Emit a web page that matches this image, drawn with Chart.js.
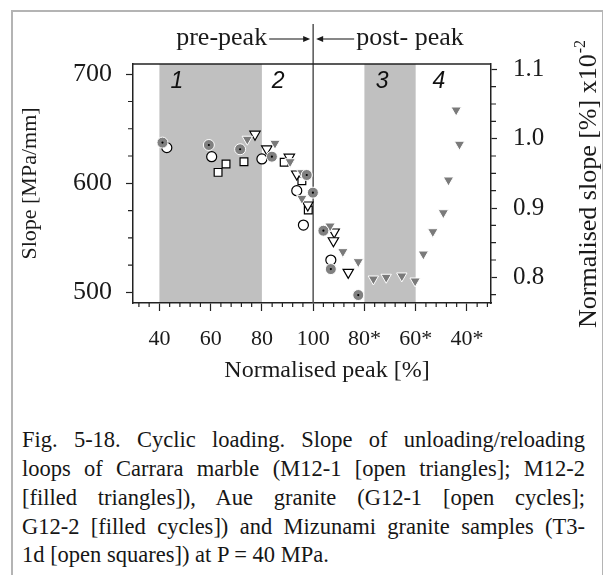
<!DOCTYPE html>
<html><head><meta charset="utf-8">
<script src="https://cdn.jsdelivr.net/npm/chart.js@4.4.0/dist/chart.umd.min.js"></script>
<style>
html,body{margin:0;padding:0;background:#fff;width:603px;height:575px;overflow:hidden;}
#frame{position:absolute;left:11px;top:10px;width:589px;height:620px;border:2px solid #b4b4b4;}
#wrap{position:absolute;left:0;top:0;width:603px;height:400px;}
#cap{position:absolute;left:22px;top:426px;width:563px;font-family:"Liberation Serif",serif;font-size:22.5px;line-height:28.85px;color:#161616;}
#cap div{text-align:justify;text-align-last:justify;white-space:nowrap;}
#cap div.last{text-align-last:left;}
</style></head>
<body>
<div id="frame"></div>
<div id="wrap"><canvas id="c" width="603" height="400"></canvas></div>
<div id="cap">
<div>Fig. 5-18. Cyclic loading. Slope of unloading/reloading</div>
<div>loops of Carrara marble (M12-1 [open triangles]; M12-2</div>
<div>[filled triangles]), Aue granite (G12-1 [open cycles];</div>
<div>G12-2 [filled cycles]) and Mizunami granite samples (T3-</div>
<div class="last">1d [open squares]) at P = 40 MPa.</div>
</div>
<script>
// ---- axis ticks / labels ----
const xTickValues = [40, 60, 80, 100, 120, 140, 160];
const xTickLabels = ['40', '60', '80', '100', '80*', '60*', '40*'];
const yLeftTicks = [500, 600, 700];
const yRightTicks = [0.8, 0.9, 1.0, 1.1];
const regionLabels = ['1', '2', '3', '4'];
const regionLabelX = [46.8, 86.3, 126.9, 149.1];
const shadedFrom = [40, 120];
const shadedTo = [80, 140];
const peakX = 100;

// ---- series (x: normalised peak position, y: slope MPa/mm) ----
const m121X = [77.3, 81.9, 90.7, 93.6, 97.9, 108.2, 107.9, 113.7];
const m121Y = [645.0, 631.5, 623.9, 608.5, 580.1, 555.3, 547.3, 518.3];

const m122X = [74.3, 85.1, 91.0, 95.6, 95.6, 106.6, 111.6, 117.6, 123.5, 128.5, 134.6, 139.8, 143.0, 146.7, 150.8, 152.8, 157.1, 155.8];
const m122Y = [640.4, 636.7, 619.8, 609.7, 586.2, 560.8, 537.3, 528.1, 512.2, 513.8, 515.0, 510.4, 535.1, 555.6, 573.0, 603.0, 635.8, 667.2];

const g121X = [42.9, 60.4, 80.0, 93.6, 96.2, 106.9];
const g121Y = [632.7, 624.4, 622.3, 593.2, 561.7, 529.6];

const g122X = [41.2, 59.3, 71.5, 83.9, 97.5, 99.9, 104.0, 106.9, 117.6];
const g122Y = [637.3, 635.1, 631.2, 624.4, 607.6, 591.4, 556.5, 521.3, 497.5];

const t31dX = [62.9, 66.0, 73.0, 88.7, 95.6, 98.1];
const t31dY = [610.0, 617.7, 619.8, 619.3, 602.4, 575.5];

const pts = (xs, ys) => xs.map((x, i) => ({x: x, y: ys[i]}));

const SERIF = '"Liberation Serif", "Times New Roman", serif';
const INK = '#1a1a1a';

const decor = {
  id: 'decor',
  beforeDraw(chart) {
    const {ctx, chartArea: a, scales: {x}} = chart;
    ctx.save();
    ctx.fillStyle = '#c0c0c0';
    for (let i = 0; i < shadedFrom.length; i++) {
      const x0 = x.getPixelForValue(shadedFrom[i]);
      const x1 = x.getPixelForValue(shadedTo[i]);
      ctx.fillRect(x0, a.top, x1 - x0, a.bottom - a.top);
    }
    ctx.restore();
  },
  beforeDatasetsDraw(chart) {
    const {ctx, chartArea: a, scales: {x}} = chart;
    const px = x.getPixelForValue(peakX);
    ctx.save();
    ctx.strokeStyle = '#555';
    ctx.lineWidth = 1.5;
    ctx.beginPath();
    ctx.moveTo(px, 24);
    ctx.lineTo(px, a.bottom);
    ctx.stroke();
    ctx.restore();
  },
  afterDraw(chart) {
    const {ctx, chartArea: a, scales: {x, y, y2}} = chart;
    ctx.save();
    // top frame
    ctx.strokeStyle = '#222';
    ctx.lineWidth = 1.5;
    ctx.beginPath();
    ctx.moveTo(a.left, a.top);
    ctx.lineTo(a.right, a.top);
    ctx.stroke();
    // minor ticks
    ctx.lineWidth = 1.2;
    ctx.beginPath();
    for (let v = 32; v <= 168; v += 4) {
      if (v % 20 === 0) continue;
      const p = x.getPixelForValue(v);
      ctx.moveTo(p, a.bottom);
      ctx.lineTo(p, a.bottom + 4);
    }
    for (let v = 525; v < 700; v += 25) {
      if (v % 100 === 0) continue;
      const p = y.getPixelForValue(v);
      ctx.moveTo(a.left - 5, p);
      ctx.lineTo(a.left, p);
    }
    for (let k = 31; k <= 44; k++) {
      if (k % 4 === 0) continue;
      const p = y2.getPixelForValue(k * 0.025);
      ctx.moveTo(a.right, p);
      ctx.lineTo(a.right + 5, p);
    }
    ctx.stroke();
    // region labels
    ctx.fillStyle = '#111';
    ctx.font = 'italic 23px "Liberation Sans", Arial, sans-serif';
    ctx.textAlign = 'center';
    ctx.textBaseline = 'middle';
    regionLabels.forEach((t, i) => ctx.fillText(t, x.getPixelForValue(regionLabelX[i]), a.top + 18));
    // header
    const px = x.getPixelForValue(peakX);
    ctx.fillStyle = INK;
    ctx.font = '26px ' + SERIF;
    ctx.textBaseline = 'alphabetic';
    ctx.textAlign = 'right';
    ctx.fillText('pre-peak', px - 46, 45);
    ctx.textAlign = 'left';
    ctx.fillText('post- peak', px + 43, 45);
    ctx.strokeStyle = '#111';
    ctx.lineWidth = 1.2;
    ctx.beginPath();
    ctx.moveTo(px - 44, 39); ctx.lineTo(px - 8, 39);
    ctx.moveTo(px + 8, 39); ctx.lineTo(px + 41, 39);
    ctx.stroke();
    ctx.beginPath();
    ctx.moveTo(px - 3, 39); ctx.lineTo(px - 10, 36); ctx.lineTo(px - 10, 42); ctx.closePath();
    ctx.moveTo(px + 3, 39); ctx.lineTo(px + 10, 36); ctx.lineTo(px + 10, 42); ctx.closePath();
    ctx.fill();
    // x title
    ctx.textAlign = 'center';
    ctx.font = '24px ' + SERIF;
    ctx.fillText('Normalised peak [%]', (a.left + a.right) / 2 + 15, 377);
    // right title (reads bottom to top)
    ctx.translate(596, 328);
    ctx.rotate(-Math.PI / 2);
    ctx.textAlign = 'left';
    ctx.font = '26px ' + SERIF;
    const main = 'Normalised slope [%] x10';
    ctx.fillText(main, 0, 0);
    const w = ctx.measureText(main).width;
    ctx.font = '16px ' + SERIF;
    ctx.fillText('-2', w + 1, -11);
    ctx.restore();
  }
};

new Chart(document.getElementById('c'), {
  type: 'scatter',
  data: {
    datasets: [
      {label: 'G12-2 centre', data: pts(g122X, g122Y), pointStyle: 'circle', pointRadius: 1.1, backgroundColor: '#000', borderColor: '#000', borderWidth: 0},
      {label: 'G12-2', data: pts(g122X, g122Y), pointStyle: 'circle', pointRadius: 5.5, backgroundColor: '#808080', borderColor: '#fff', borderWidth: 1},
      {label: 'M12-2', data: pts(m122X, m122Y), pointStyle: 'triangle', rotation: 180, pointRadius: 6, backgroundColor: '#7a7a7a', borderColor: '#fff', borderWidth: 1},
      {label: 'M12-1', data: pts(m121X, m121Y), pointStyle: 'triangle', rotation: 180, pointRadius: 6, backgroundColor: '#fff', borderColor: '#000', borderWidth: 1.2},
      {label: 'G12-1', data: pts(g121X, g121Y), pointStyle: 'circle', pointRadius: 5, backgroundColor: '#fff', borderColor: '#000', borderWidth: 1.2},
      {label: 'T3-1d', data: pts(t31dX, t31dY), pointStyle: 'rect', pointRadius: 5.5, backgroundColor: '#fff', borderColor: '#000', borderWidth: 1.2}
    ]
  },
  options: {
    responsive: false,
    animation: false,
    devicePixelRatio: 1,
    layout: {padding: {top: 64, left: 0, right: 0, bottom: 0}},
    plugins: {legend: {display: false}, tooltip: {enabled: false}},
    scales: {
      x: {
        type: 'linear', position: 'bottom', min: 29.7, max: 169.4,
        afterBuildTicks: s => { s.ticks = xTickValues.map(v => ({value: v})); },
        afterFit: s => { s.height = 97; },
        ticks: {
          callback: v => xTickLabels[xTickValues.indexOf(v)],
          font: {family: SERIF, size: 22}, color: INK, padding: 15, maxRotation: 0, autoSkip: false
        },
        grid: {drawOnChartArea: false, drawTicks: true, tickLength: 8, tickColor: '#222', tickWidth: 1.2},
        border: {display: true, color: '#222', width: 1.5}
      },
      y: {
        type: 'linear', position: 'left', min: 490.2, max: 709.4,
        afterBuildTicks: s => { s.ticks = yLeftTicks.map(v => ({value: v})); },
        afterFit: s => { s.width = 133; },
        ticks: {font: {family: SERIF, size: 26}, color: INK, padding: 14},
        grid: {drawOnChartArea: false, drawTicks: true, tickLength: 7, tickColor: '#222', tickWidth: 1.2},
        border: {display: true, color: '#222', width: 1.5},
        title: {display: true, text: 'Slope [MPa/mm]', font: {family: SERIF, size: 22}, color: INK, padding: {top: 17, bottom: 0}}
      },
      y2: {
        type: 'linear', position: 'right', min: 0.763, max: 1.1077,
        afterBuildTicks: s => { s.ticks = yRightTicks.map(v => ({value: v})); },
        afterFit: s => { s.width = 112; },
        ticks: {callback: v => v.toFixed(1), font: {family: SERIF, size: 25}, color: INK, padding: 16},
        grid: {drawOnChartArea: false, drawTicks: true, tickLength: 6, tickColor: '#222', tickWidth: 1.2},
        border: {display: true, color: '#222', width: 1.5}
      }
    }
  },
  plugins: [decor]
});
</script>
</body></html>
